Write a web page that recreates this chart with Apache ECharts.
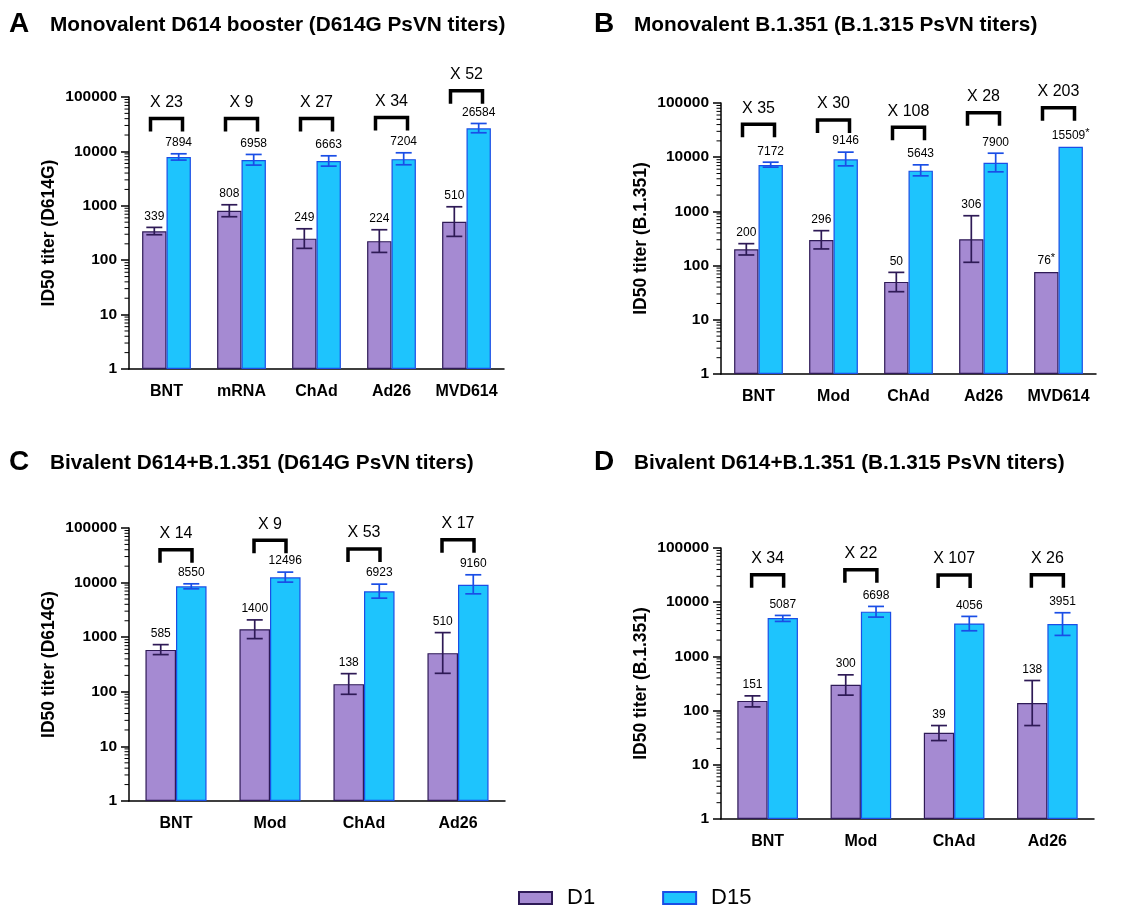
<!DOCTYPE html>
<html>
<head>
<meta charset="utf-8">
<script src="https://cdn.jsdelivr.net/npm/echarts@6/dist/echarts.min.js"></script>
<style>
  html, body { margin: 0; padding: 0; background: #fff; }
  #chart { width: 1138px; height: 907px; }
</style>
</head>
<body>
<div id="chart"></div>
<script>
// Panel A - Monovalent D614 booster (D614G PsVN)
const catsA = ['BNT', 'mRNA', 'ChAd', 'Ad26', 'MVD614'];
const d1A = [339, 808, 249, 224, 510];
const d15A = [7894, 6958, 6663, 7204, 26584];
const d1ErrA = [[294, 401], [630, 1045], [165, 378], [139, 363], [274, 960]];
const d15ErrA = [[6920, 9040], [5600, 8790], [5360, 8300], [5680, 9430], [22000, 32600]];
const foldA = ['X 23', 'X 9', 'X 27', 'X 34', 'X 52'];
const bracketA = [40300, 40300, 40300, 42000, 130000];

// Panel B - Monovalent B.1.351 (B.1.315 PsVN)
const catsB = ['BNT', 'Mod', 'ChAd', 'Ad26', 'MVD614'];
const d1B = [200, 296, 50, 306, 76];
const d15B = [7172, 9146, 5643, 7900, 15509];
const d1ErrB = [[157, 254], [203, 441], [33, 75], [115, 832], null];
const d15ErrB = [[6550, 8090], [6920, 12400], [4530, 7230], [5370, 11850], null];
const starB = ['', '', '', '', '*'];
const foldB = ['X 35', 'X 30', 'X 108', 'X 28', 'X 203'];
const bracketB = [40500, 48700, 35700, 66400, 82000];

// Panel C - Bivalent (D614G PsVN)
const catsC = ['BNT', 'Mod', 'ChAd', 'Ad26'];
const d1C = [585, 1400, 138, 510];
const d15C = [8550, 12496, 6923, 9160];
const d1ErrC = [[480, 731], [942, 2075], [90, 215], [218, 1214]];
const d15ErrC = [[7690, 9500], [10200, 15560], [5190, 9370], [6230, 13900]];
const foldC = ['X 14', 'X 9', 'X 53', 'X 17'];
const bracketC = [40000, 59400, 41100, 61000];

// Panel D - Bivalent (B.1.315 PsVN)
const catsD = ['BNT', 'Mod', 'ChAd', 'Ad26'];
const d1D = [151, 300, 39, 138];
const d15D = [5087, 6698, 4056, 3951];
const d1ErrD = [[117, 187], [193, 457], [28, 53], [53, 359]];
const d15ErrD = [[4420, 5700], [5310, 8360], [2970, 5470], [2440, 6390]];
const foldD = ['X 34', 'X 22', 'X 107', 'X 26'];
const bracketD = [32200, 39800, 31700, 32200];

const FONT = '"Liberation Sans", Arial, sans-serif';
const PURPLE = '#a58ad2', PURPLE_DARK = '#2e1a56';
const BLUE = '#1ec4fd', BLUE_DARK = '#1a4ee6';

// minor ticks of the log axis (2..9 in every decade)
const minorTicks = [];
for (let p = 1; p <= 10000; p *= 10) {
    for (let m = 2; m <= 9; m++) minorTicks.push(m * p);
}

const panels = [
    { letter: 'A', title: 'Monovalent D614 booster (D614G PsVN titers)', yName: 'ID50 titer (D614G)',
      cats: catsA, d1: d1A, d15: d15A, e1: d1ErrA, e15: d15ErrA, fold: foldA, br: bracketA, star: null,
      grid: { left: 129, top: 97, width: 375, height: 272 }, lx: 9, tx: 50, ty: 26 },
    { letter: 'B', title: 'Monovalent B.1.351 (B.1.315 PsVN titers)', yName: 'ID50 titer (B.1.351)',
      cats: catsB, d1: d1B, d15: d15B, e1: d1ErrB, e15: d15ErrB, fold: foldB, br: bracketB, star: starB,
      grid: { left: 721, top: 103, width: 375, height: 271 }, lx: 594, tx: 634, ty: 26 },
    { letter: 'C', title: 'Bivalent D614+B.1.351 (D614G PsVN titers)', yName: 'ID50 titer (D614G)',
      cats: catsC, d1: d1C, d15: d15C, e1: d1ErrC, e15: d15ErrC, fold: foldC, br: bracketC, star: null,
      grid: { left: 129, top: 528, width: 376, height: 273 }, lx: 9, tx: 50, ty: 464 },
    { letter: 'D', title: 'Bivalent D614+B.1.351 (B.1.315 PsVN titers)', yName: 'ID50 titer (B.1.351)',
      cats: catsD, d1: d1D, d15: d15D, e1: d1ErrD, e15: d15ErrD, fold: foldD, br: bracketD, star: null,
      grid: { left: 721, top: 548, width: 373, height: 271 }, lx: 594, tx: 634, ty: 464 }
];

// error bar + value label for one bar group
function errRender(vals, errs, side, color, star) {
    return function (params, api) {
        const i = api.value(0);
        const band = api.size([1, 0])[0];
        const c = api.coord([i, vals[i]]);
        const x = c[0] + side * band * 0.1625;
        let topY = c[1];
        const children = [];
        const e = errs[i];
        if (e) {
            const lo = api.coord([i, e[0]])[1];
            const hi = api.coord([i, e[1]])[1];
            topY = hi;
            const st = { stroke: color, lineWidth: 1.7 };
            children.push({ type: 'line', shape: { x1: x, y1: lo, x2: x, y2: hi }, style: st });
            children.push({ type: 'line', shape: { x1: x - 8, y1: hi, x2: x + 8, y2: hi }, style: st });
            children.push({ type: 'line', shape: { x1: x - 8, y1: lo, x2: x + 8, y2: lo }, style: st });
        }
        const s = star ? star[i] : '';
        children.push({
            type: 'text',
            x: x, y: topY - 11,
            style: {
                text: s ? '{v|' + vals[i] + '}{s|' + s + '}' : String(vals[i]),
                fill: '#000', font: '12px ' + FONT,
                align: 'center', verticalAlign: 'middle',
                rich: { v: { fontSize: 12, fontFamily: FONT }, s: { fontSize: 11, fontFamily: FONT, verticalAlign: 'top', padding: [0, 0, 6, 0] } }
            }
        });
        return { type: 'group', children: children };
    };
}

function bracketRender(br, fold) {
    return function (params, api) {
        const i = api.value(0);
        const c = api.coord([i, br[i]]);
        const x = c[0], y = c[1];
        return {
            type: 'group',
            children: [
                { type: 'polyline', shape: { points: [[x - 16, y + 13], [x - 16, y], [x + 16, y], [x + 16, y + 13]] },
                  style: { stroke: '#000', lineWidth: 3.5, fill: null, lineJoin: 'miter' } },
                { type: 'text', x: x, y: y - 16,
                  style: { text: fold[i], fill: '#000', font: '16px ' + FONT, align: 'center', verticalAlign: 'middle' } }
            ]
        };
    };
}

function minorRender(params, api) {
    const v = api.value(1);
    const band = api.size([1, 0])[0];
    const c = api.coord([0, v]);
    const x0 = c[0] - band / 2;
    return { type: 'line', shape: { x1: x0 - 4.5, y1: c[1], x2: x0, y2: c[1] }, style: { stroke: '#000', lineWidth: 1 } };
}

const grids = [], xAxes = [], yAxes = [], series = [], titles = [];

panels.forEach((p, k) => {
    grids.push(Object.assign({ outerBoundsMode: 'none' }, p.grid));
    titles.push({ text: p.letter, left: p.lx, top: p.ty - 16, padding: 0,
        textStyle: { fontFamily: FONT, fontSize: 28, fontWeight: 'bold', color: '#000' } });
    titles.push({ text: p.title, left: p.tx, top: p.ty - 11, padding: 0,
        textStyle: { fontFamily: FONT, fontSize: 20.8, fontWeight: 'bold', color: '#000' } });
    xAxes.push({
        type: 'category', gridIndex: k, data: p.cats,
        axisLine: { lineStyle: { color: '#000', width: 1.5 } },
        axisTick: { alignWithLabel: true, length: 7, lineStyle: { color: '#000', width: 1.5 } },
        axisLabel: { interval: 0, color: '#000', fontFamily: FONT, fontSize: 16, fontWeight: 'bold', margin: 15 }
    });
    yAxes.push({
        type: 'log', gridIndex: k, logBase: 10, min: 1, max: 100000,
        name: p.yName, nameLocation: 'middle', nameGap: 71,
        nameTextStyle: { color: '#000', fontFamily: FONT, fontSize: 17.5, fontWeight: 'bold' },
        axisLine: { show: true, lineStyle: { color: '#000', width: 1.5 } },
        axisTick: { show: true, length: 8, lineStyle: { color: '#000', width: 1.5 } },
        axisLabel: { color: '#000', fontFamily: FONT, fontSize: 15.5, fontWeight: 'bold', margin: 12,
            formatter: v => String(Math.round(v)) },
        splitLine: { show: false }
    });
    series.push({
        name: 'D1', type: 'bar', xAxisIndex: k, yAxisIndex: k, data: p.d1,
        barGap: '0%', barCategoryGap: '35%',
        itemStyle: { color: PURPLE, borderColor: PURPLE_DARK, borderWidth: 1.2 }
    });
    series.push({
        name: 'D15', type: 'bar', xAxisIndex: k, yAxisIndex: k, data: p.d15,
        barGap: '0%', barCategoryGap: '35%',
        itemStyle: { color: BLUE, borderColor: BLUE_DARK, borderWidth: 1.2 }
    });
    series.push({
        name: 'errD1', type: 'custom', xAxisIndex: k, yAxisIndex: k, silent: true, z: 5,
        data: p.d1.map((v, i) => [i, v]), renderItem: errRender(p.d1, p.e1, -1, PURPLE_DARK, p.star)
    });
    series.push({
        name: 'errD15', type: 'custom', xAxisIndex: k, yAxisIndex: k, silent: true, z: 5,
        data: p.d15.map((v, i) => [i, v]), renderItem: errRender(p.d15, p.e15, 1, BLUE_DARK, p.star)
    });
    series.push({
        name: 'fold', type: 'custom', xAxisIndex: k, yAxisIndex: k, silent: true, clip: false,
        data: p.br.map((v, i) => [i, v]), renderItem: bracketRender(p.br, p.fold)
    });
    series.push({
        name: 'minor', type: 'custom', xAxisIndex: k, yAxisIndex: k, silent: true, clip: false,
        data: minorTicks.map(v => [0, v]), renderItem: minorRender
    });
});

const chart = echarts.init(document.getElementById('chart'));
chart.setOption({
    animation: false,
    backgroundColor: '#fff',
    title: titles,
    legend: {
        data: ['D1', 'D15'], left: 513, top: 882, icon: 'rect',
        itemWidth: 33, itemHeight: 12, itemGap: 67,
        textStyle: { color: '#000', fontFamily: FONT, fontSize: 22, padding: [0, 0, 0, 10] }
    },
    grid: grids,
    xAxis: xAxes,
    yAxis: yAxes,
    series: series
});
window.addEventListener('resize', () => chart.resize());
</script>
</body>
</html>
